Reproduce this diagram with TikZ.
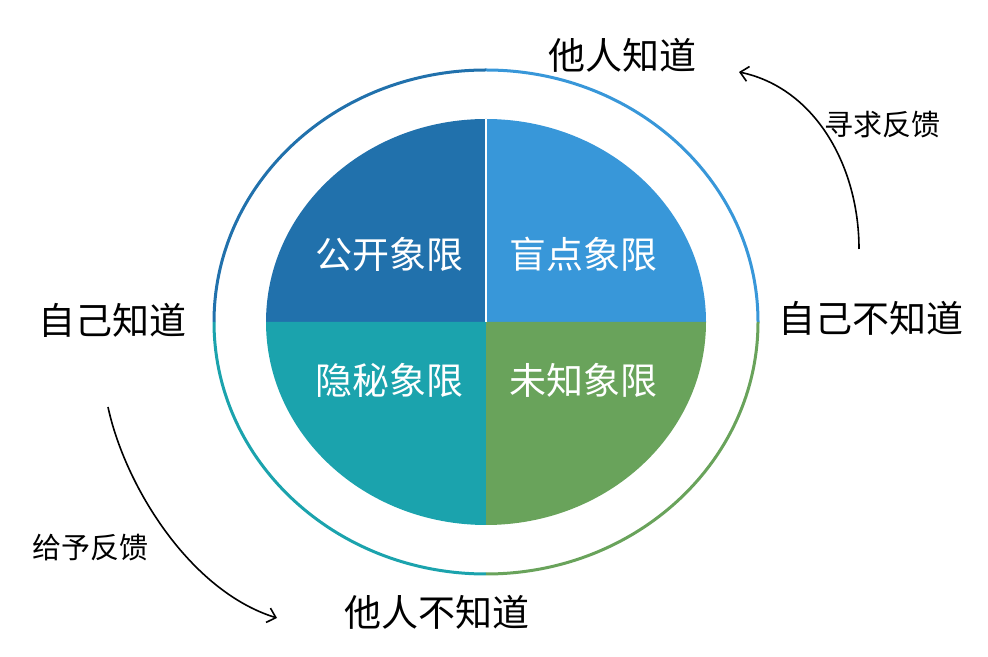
\documentclass[tikz,border=0pt]{standalone}
\usepackage{fontspec}
\newfontfamily\cjk{Noto Sans CJK SC}
\usetikzlibrary{arrows.meta}
\definecolor{openblue}{HTML}{2171AC}
\definecolor{blindblue}{HTML}{3897D9}
\definecolor{hiddenteal}{HTML}{1BA3AD}
\definecolor{unknowngreen}{HTML}{69A35B}

\begin{document}
\begin{tikzpicture}[x=1pt, y=1pt,
    big/.style={font=\cjk\fontsize{37}{37}\selectfont},
    quad/.style={big, text=white},
    small/.style={font=\cjk\fontsize{29}{29}\selectfont},
    feedback/.style={line width=1.6pt, -{Straight Barb[length=8pt,width=15pt]}}]
  \useasboundingbox (0,0) rectangle (988,656);
  \def\cx{486} \def\cy{334}
  \def\rx{220} \def\ry{203}
  \def\Rx{272} \def\Ry{252}
  % four quadrants, each with its part of the outer ring
  \foreach \a/\col in {0/blindblue, 90/openblue, 180/hiddenteal, 270/unknowngreen} {
    \fill[\col] (\cx,\cy) -- ++({\a}:{\rx} and {\ry})
      arc[start angle=\a, delta angle=90, x radius=\rx, y radius=\ry] -- cycle;
    \draw[\col, line width=3pt] (\cx,\cy) ++({\a}:{\Rx} and {\Ry})
      arc[start angle=\a, delta angle=90, x radius=\Rx, y radius=\Ry];
  }
  \draw[white, line width=1.5pt] (\cx,\cy) -- ++(0,\ry);
  \node[quad] (open)    at (389,402) {公开象限};
  \node[quad] (blind)   at (583,402) {盲点象限};
  \node[quad] (hidden)  at (389,276) {隐秘象限};
  \node[quad] (unknown) at (583,276) {未知象限};
  \node[big] (othersKnow)   at (622,601) {他人知道};
  \node[big] (othersUnkn)   at (437,44)  {他人不知道};
  \node[big] (selfKnow)     at (112,336) {自己知道};
  \node[big] (selfUnkn)     at (871,338) {自己不知道};
  \node[small] (seekLabel)  at (882,531) {寻求反馈};
  \node[small] (giveLabel)  at (90,108)  {给予反馈};
  % feedback arrows
  \coordinate (seekA) at (859,407);
  \coordinate (seekB) at (739,584);
  \coordinate (giveA) at (108,249);
  \coordinate (giveB) at (277,38);
  \draw[feedback] (seekA) .. controls (859,490) and (815,568) .. (seekB);
  \draw[feedback] (giveA) .. controls (125,170) and (190,65) .. (giveB);
\end{tikzpicture}
\end{document}
